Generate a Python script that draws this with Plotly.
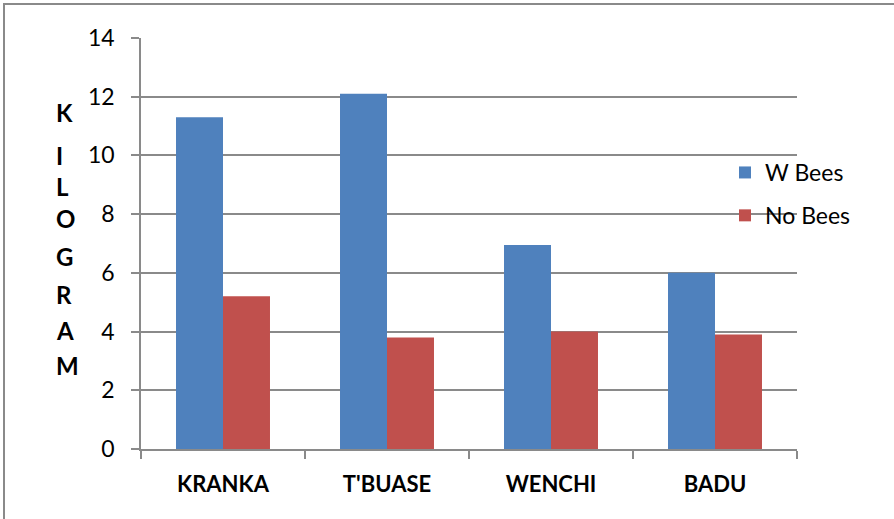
import plotly.graph_objects as go

categories = ["KRANKA", "T'BUASE", "WENCHI", "BADU"]
w_bees = [11.3, 12.1, 6.95, 6.0]
no_bees = [5.2, 3.8, 4.0, 3.9]
series_names = ["W Bees", "No Bees"]
y_ticks = [0, 2, 4, 6, 8, 10, 12, 14]
y_label_letters = list("KILOGRAM")

W, H = 894, 519
L, R, T, B = 141, 97, 38, 70
pw, ph = W - L - R, H - T - B

def px_x(x):
    return (x - L) / pw

def px_y(y):
    return (H - B - y) / ph

FONT = "Lato"
GRID = "#8a8a8a"

fig = go.Figure()
fig.add_trace(go.Bar(x=categories, y=w_bees, name=series_names[0],
                     marker=dict(color="#4F81BD", line=dict(width=0)),
                     legendgroup="a"))
fig.add_trace(go.Bar(x=categories, y=no_bees, name=series_names[1],
                     marker=dict(color="#C0504D", line=dict(width=0)),
                     legendgroup="b"))

fig.update_layout(
    width=W, height=H,
    margin=dict(l=L, r=R, t=T, b=B, autoexpand=False),
    paper_bgcolor="white", plot_bgcolor="white",
    barmode="group", bargap=0.427, bargroupgap=0,
    font=dict(family=FONT, color="#000000"),
    legend=dict(x=px_x(725), y=px_y(151), xanchor="left", yanchor="top",
                font=dict(size=23, family=FONT), tracegroupgap=10,
                bgcolor="rgba(0,0,0,0)"),
    showlegend=True,
)

fig.update_yaxes(range=[0, 14], tickvals=y_ticks, showgrid=True,
                 gridcolor=GRID, gridwidth=1.5,
                 showline=True, linecolor=GRID, linewidth=1.5,
                 ticks="outside", ticklen=8, tickcolor=GRID, tickwidth=1.5,
                 tickfont=dict(size=23, family=FONT), ticklabelstandoff=12,
                 zeroline=False)
fig.update_xaxes(showline=True, linecolor=GRID, linewidth=1.5,
                 ticks="outside", tickson="boundaries", ticklen=8,
                 tickcolor=GRID, tickwidth=1.5,
                 tickvals=categories,
                 ticktext=[f"<b>{c}</b>" for c in categories],
                 tickfont=dict(size=22, family=FONT),
                 ticklabelstandoff=15)

# vertical stacked y-axis title
letter_y = [112, 155, 186, 218, 256, 294, 330, 365]
for ch, yy in zip(y_label_letters, letter_y):
    fig.add_annotation(text=f"<b>{ch}</b>", xref="paper", yref="paper",
                       x=px_x(54), y=px_y(yy), xanchor="left", yanchor="middle",
                       showarrow=False, font=dict(size=24, family=FONT))

# outer chart border (left and top visible)
fig.add_shape(type="rect", xref="paper", yref="paper",
              x0=px_x(4), x1=px_x(W + 20), y0=px_y(H + 20), y1=px_y(4),
              line=dict(color=GRID, width=2), fillcolor="rgba(0,0,0,0)",
              layer="below")

fig.write_html("out.html")
